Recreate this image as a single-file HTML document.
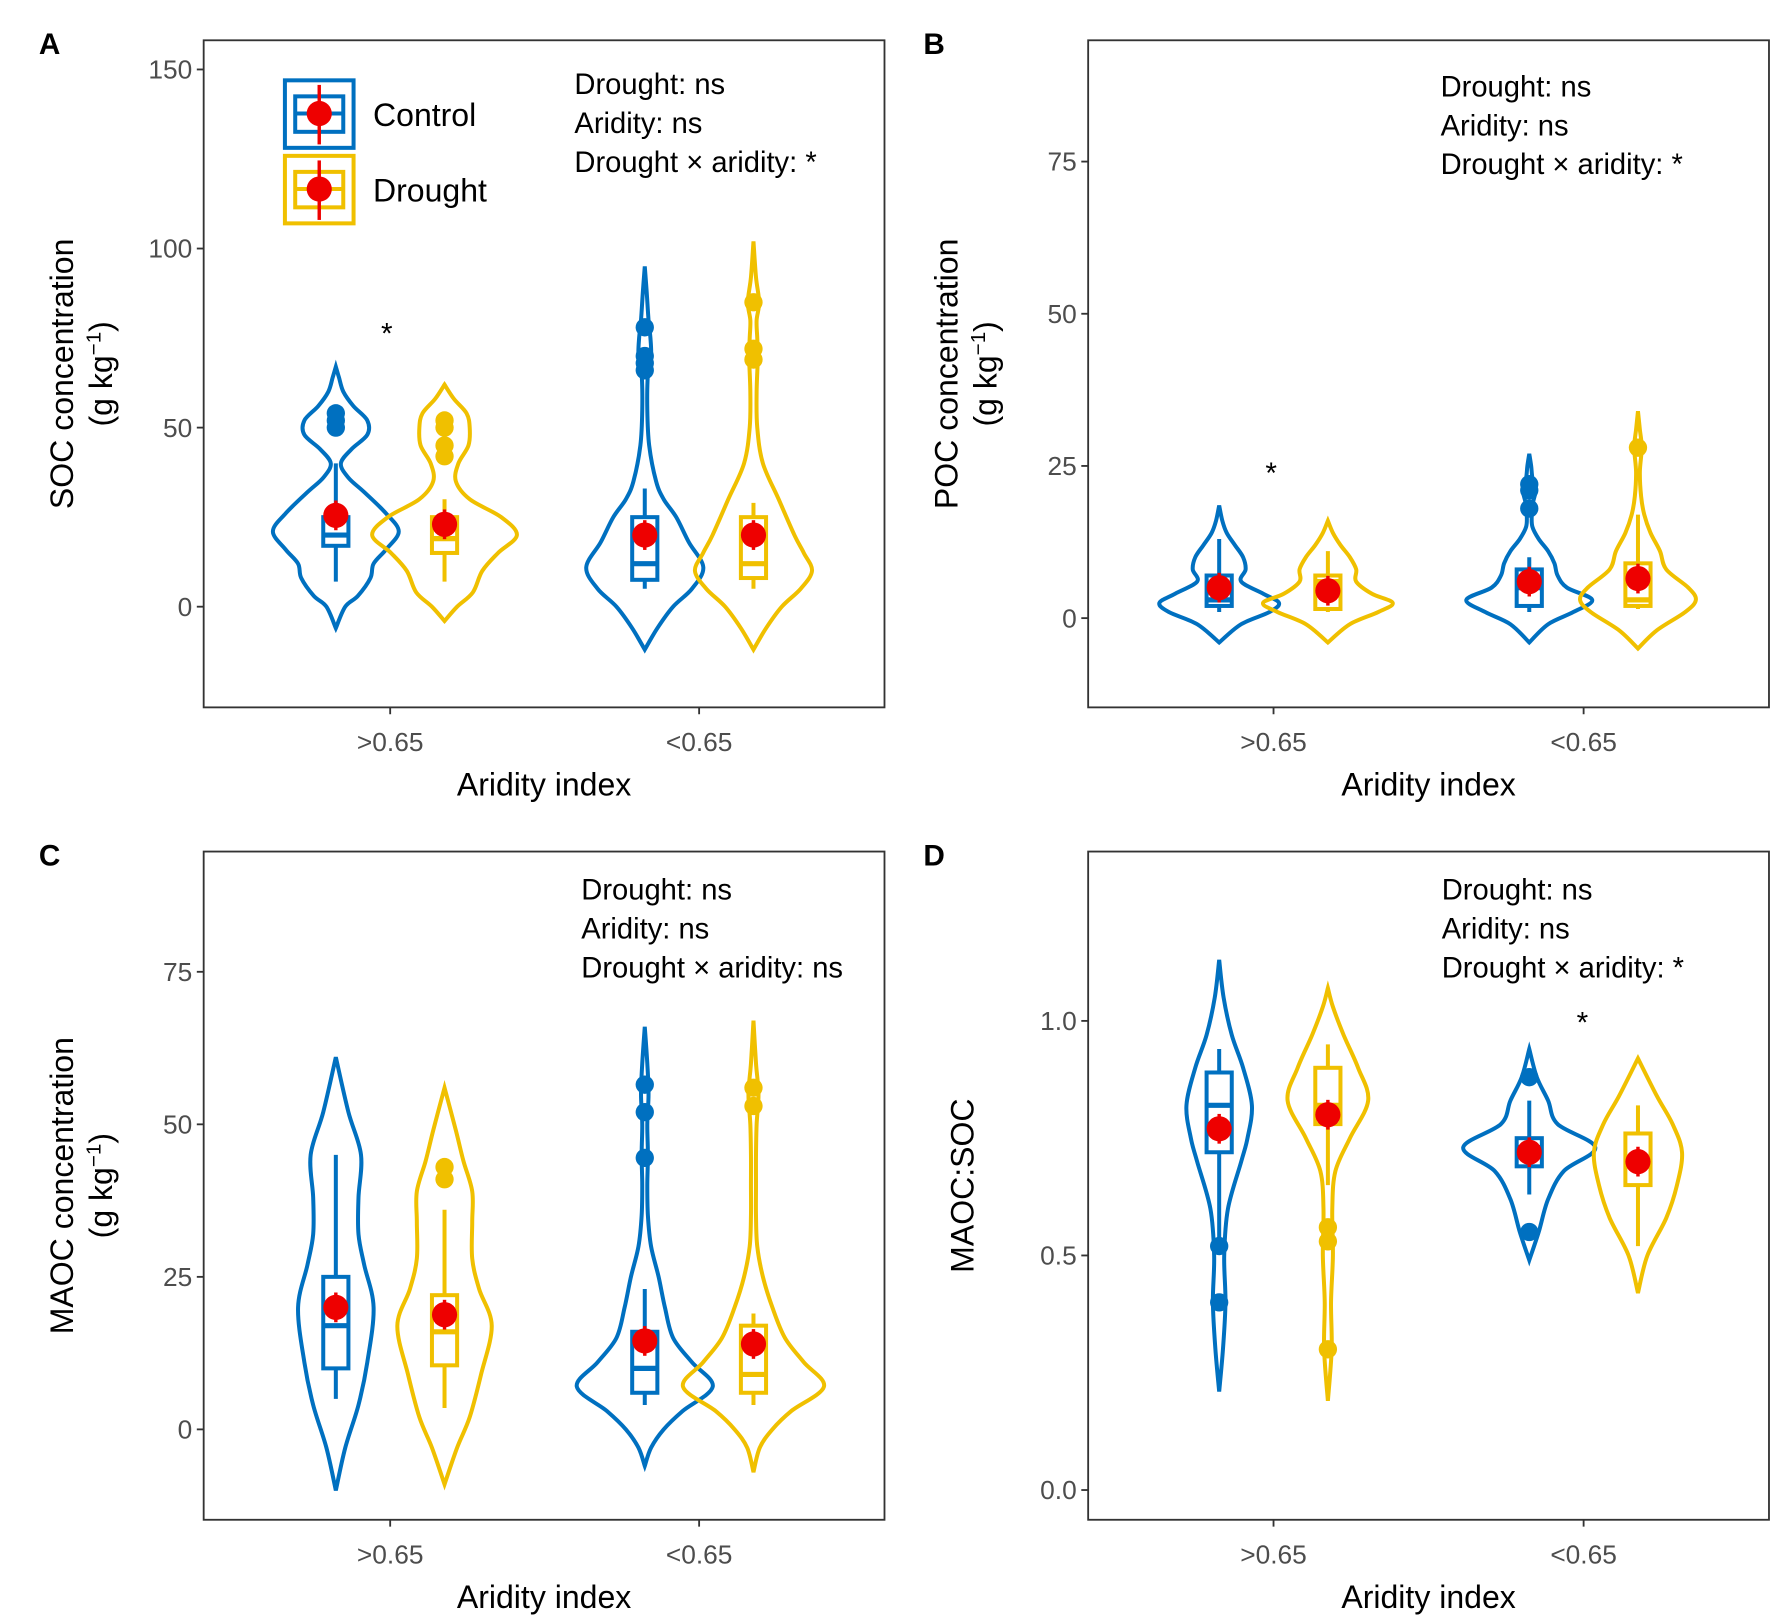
<!DOCTYPE html>
<html><head><meta charset="utf-8"><style>
html,body{margin:0;padding:0;background:#fff}
svg{display:block}
text{font-family:"Liberation Sans",Arial,sans-serif}
</style></head><body>
<svg id="fig" width="1785" height="1623" viewBox="0 0 1560 1418" xmlns="http://www.w3.org/2000/svg"></svg>
<script>
// ---------- DATA ----------
const categories = [">0.65", "<0.65"];
const groups = ["Control", "Drought"];
// Panel A: SOC
const aTicks = [0, 50, 100, 150];
const aViolinVals = [
 [-6,0,3,8,12,16,21,26,32,36,40,44,48,52,56,60,64,67],
 [-4,0,4,10,15,20,25,30,35,40,45,50,54,58,62],
 [-12,-6,0,5,11,18,25,30,35,45,55,65,70,75,80,88,95],
 [-12,-6,0,5,10,15,20,30,40,50,60,70,75,80,85,92,102]];
const aViolinDens = [
 [0,0.15,0.35,0.55,0.6,0.8,1,0.8,0.45,0.2,0.08,0.25,0.5,0.5,0.28,0.12,0.05,0],
 [0,0.2,0.45,0.6,0.85,1.15,0.9,0.4,0.18,0.22,0.38,0.4,0.35,0.15,0],
 [0,0.2,0.45,0.75,0.93,0.7,0.5,0.3,0.18,0.07,0.04,0.05,0.1,0.09,0.06,0.03,0],
 [0,0.2,0.45,0.75,0.93,0.8,0.65,0.4,0.15,0.06,0.05,0.07,0.06,0.05,0.09,0.04,0]];
const aBox = [[7,17,20,25,40],[7,15,19,25,30],[5,7.5,12,25,33],[5,8,12,25,29]];
const aOutliers = [[50,52,54],[42,45,50,52],[66,68,70,78],[69,72,85]];
const aMeans = [25.5,23,20,20];
// Panel B: POC
const bTicks = [0,25,50,75];
const bViolinVals = [
 [-4,-1,1,2.5,4,6,8,10,12,14,16,18.5],
 [-4,-1,1,2.5,4,6,8,10,12,14,16],
 [-4,-1,1,3,5,7,9,11,13,15,17,19,21,23,25,27],
 [-5,-2,1,3,5,8,11,14,17,20,24,28,31,34]];
const bViolinDens = [
 [0,0.35,0.8,0.95,0.7,0.35,0.42,0.38,0.25,0.12,0.05,0],
 [0,0.35,0.8,1.03,0.7,0.45,0.45,0.35,0.2,0.08,0],
 [0,0.3,0.7,1,0.6,0.45,0.4,0.3,0.15,0.05,0.04,0.06,0.1,0.05,0.03,0],
 [0,0.3,0.75,0.92,0.8,0.45,0.35,0.2,0.1,0.05,0.03,0.06,0.03,0]];
const bBox = [[1,2,3,7,13],[1,1.5,6,7,11],[1,2,5,8,10],[1.5,2,3,9,17]];
const bOutliers = [[],[],[18,21,22],[28]];
const bMeans = [5,4.5,6,6.5];
// Panel C: MAOC
const cTicks = [0,25,50,75];
const cViolinVals = [
 [-10,-3,4,11,20,27,32,38,45,52,61],
 [-9,-3,2,9,17,23,28,34,39,44,49,56],
 [-6,-3,0,3,7,11,15,20,25,30,35,40,45,50,55,60,66],
 [-7,-3,0,3,7,11,15,20,25,30,35,40,45,50,55,60,67]];
const cViolinDens = [
 [0,0.15,0.36,0.5,0.6,0.45,0.36,0.36,0.4,0.2,0],
 [0,0.2,0.4,0.58,0.75,0.55,0.44,0.44,0.44,0.3,0.18,0],
 [0,0.1,0.3,0.6,1.08,0.75,0.45,0.32,0.22,0.1,0.05,0.04,0.05,0.04,0.06,0.04,0],
 [0,0.1,0.3,0.6,1.12,0.8,0.5,0.3,0.15,0.06,0.04,0.04,0.04,0.05,0.08,0.04,0]];
const cBox = [[5,10,17,25,45],[3.5,10.5,16,22,36],[4,6,10,16,23],[4,6,9,17,19]];
const cOutliers = [[],[41,43],[44.5,52,56.5],[53,56]];
const cMeans = [20,18.8,14.5,14];
// Panel D: MAOC:SOC
const dTicks = [0.0,0.5,1.0];
const dViolinVals = [
 [0.21,0.3,0.4,0.5,0.6,0.7,0.75,0.82,0.9,0.97,1.05,1.13],
 [0.19,0.3,0.4,0.5,0.6,0.68,0.75,0.83,0.9,0.97,1.03,1.07],
 [0.49,0.55,0.62,0.68,0.73,0.78,0.83,0.88,0.94],
 [0.42,0.5,0.58,0.65,0.72,0.78,0.84,0.92]];
const dViolinDens = [
 [0,0.06,0.1,0.08,0.14,0.35,0.45,0.52,0.38,0.2,0.07,0],
 [0,0.06,0.05,0.08,0.07,0.12,0.35,0.64,0.48,0.25,0.08,0],
 [0,0.15,0.3,0.55,1.05,0.45,0.3,0.12,0],
 [0,0.15,0.45,0.62,0.7,0.55,0.3,0]];
const dBox = [[0.53,0.72,0.82,0.89,0.94],[0.65,0.78,0.82,0.9,0.95],[0.63,0.69,0.73,0.75,0.83],[0.52,0.65,0.7,0.76,0.82]];
const dOutliers = [[0.40,0.52],[0.30,0.53,0.56],[0.55,0.88],[]];
const dMeans = [0.77,0.8,0.72,0.7];

// ---------- DRAWING ----------
const NS="http://www.w3.org/2000/svg";
const svg=document.getElementById('fig');
const BLUE="#0070C0", GOLD="#F0C000", RED="#EE0000";
function mk(tag,attrs,parent){const e=document.createElementNS(NS,tag);for(const k in attrs)e.setAttribute(k,attrs[k]);(parent||svg).appendChild(e);return e;}
function txt(s,attrs,parent){const e=mk('text',attrs,parent);e.textContent=s;return e;}

function smoothPath(pts){
  let d="M"+pts[0][0]+","+pts[0][1];
  for(let i=0;i<pts.length-1;i++){
    const p0=pts[Math.max(i-1,0)],p1=pts[i],p2=pts[i+1],p3=pts[Math.min(i+2,pts.length-1)];
    const c1=[p1[0]+(p2[0]-p0[0])/6,p1[1]+(p2[1]-p0[1])/6];
    const c2=[p2[0]-(p3[0]-p1[0])/6,p2[1]-(p3[1]-p1[1])/6];
    d+=" C"+c1[0]+","+c1[1]+" "+c2[0]+","+c2[1]+" "+p2[0]+","+p2[1];
  }
  return d;
}

function panel(cfg){
  const g=mk('g',{});
  
  
  const {x0,x1,y0,y1}=cfg;
  const yScale=v=>cfg.yZero-(v-0)*cfg.pxPerUnit;
  const catX=i=>cfg.catX[i];
  const dodge=47.5, halfMax=55, boxHW=11, SW=3.5;
  const fr=mk('rect',{x:x0,y:y0,width:x1-x0,height:y1-y0,fill:'none',stroke:'#333','stroke-width':1.6},g);
  
  cfg.ticks.forEach(t=>{
    const y=yScale(t);
    mk('line',{x1:x0-6,x2:x0,y1:y,y2:y,stroke:'#333','stroke-width':1.6},g);
    const l=txt(cfg.fmt(t),{x:x0-10,y:y+8,'text-anchor':'end','font-size':23,fill:'#4d4d4d'},g);
    
  });
  categories.forEach((c,i)=>{
    mk('line',{x1:catX(i),x2:catX(i),y1:y1,y2:y1+6,stroke:'#333','stroke-width':1.6},g);
    const l=txt(c,{x:catX(i),y:y1+38,'text-anchor':'middle','font-size':23,fill:'#4d4d4d'},g);
    
  });
  const xt=txt('Aridity index',{x:(x0+x1)/2,y:y1+77,'text-anchor':'middle','font-size':28,fill:'#000'},g);
  
  const yt=mk('text',{transform:`translate(${cfg.ytX},${(y0+y1)/2}) rotate(-90)`,'text-anchor':'middle','font-size':28,fill:'#000'},g);
  
  yt.textContent=cfg.ytitle;
  if(cfg.yunit){
    const yu=mk('text',{transform:`translate(${cfg.ytX+34},${(y0+y1)/2}) rotate(-90)`,'text-anchor':'middle','font-size':28,fill:'#000'},g);
    
    yu.innerHTML='(g kg<tspan dy="-10" font-size="18">−1</tspan><tspan dy="10">)</tspan>';
  }
  const pl=txt(cfg.letter,{x:x0-144,y:y0+12,'font-size':26,'font-weight':'bold',fill:'#000'},g);
  
  for(let k=0;k<4;k++){
    const cat=Math.floor(k/2), grp=k%2;
    const cx=catX(cat)+(grp===0?-dodge:dodge);
    const col=grp===0?BLUE:GOLD;
    const vals=cfg.vv[k], dens=cfg.vd[k];
    const right=vals.map((v,i)=>[cx+dens[i]*halfMax,yScale(v)]);
    const left=vals.map((v,i)=>[cx-dens[i]*halfMax,yScale(v)]).reverse();
    const p=mk('path',{d:smoothPath(right)+" "+smoothPath(left).replace(/^M/,'L')+" Z",fill:'none',stroke:col,'stroke-width':SW},g);
    
    
    const b=cfg.box[k];
    mk('line',{x1:cx,x2:cx,y1:yScale(b[0]),y2:yScale(b[4]),stroke:col,'stroke-width':SW},g);
    const r=mk('rect',{x:cx-boxHW,y:yScale(b[3]),width:boxHW*2,height:yScale(b[1])-yScale(b[3]),fill:'#fff',stroke:col,'stroke-width':SW},g);
    
    mk('line',{x1:cx-boxHW,x2:cx+boxHW,y1:yScale(b[2]),y2:yScale(b[2]),stroke:col,'stroke-width':4.5},g);
    cfg.out[k].forEach(o=>{
      const c=mk('circle',{cx:cx,cy:yScale(o),r:8,fill:col},g);
      
    });
    const m=mk('circle',{cx:cx,cy:yScale(cfg.mean[k]),r:11,fill:RED},g);
    
    mk('line',{x1:cx,x2:cx,y1:yScale(cfg.mean[k])-13,y2:yScale(cfg.mean[k])+13,stroke:RED,'stroke-width':3},g);
  }
  cfg.stats.forEach((s,i)=>{
    const t=txt(s,{x:cfg.statX,y:cfg.statY+i*34,'font-size':25.5,fill:'#000'},g);
    
  });
  (cfg.stars||[]).forEach(s=>{
    const t=txt('*',{x:s[0],y:s[1],'text-anchor':'middle','font-size':26,fill:'#000'},g);
    
  });
  return g;
}
const st=["Drought: ns","Aridity: ns","Drought × aridity: *"];
panel({name:'panel-a-soc',letter:'A',x0:178,x1:773,y0:35,y1:618,yZero:530,pxPerUnit:156.5/50,catX:[341,611],ticks:aTicks,fmt:t=>String(t),
  ytitle:'SOC concentration',yunit:true,ytX:64,vv:aViolinVals,vd:aViolinDens,box:aBox,out:aOutliers,mean:aMeans,stats:st,statX:502,statY:82,stars:[[338,300]]});
panel({name:'panel-b-poc',letter:'B',x0:951,x1:1546,y0:35,y1:618,yZero:540,pxPerUnit:133/25,catX:[1113,1384],ticks:bTicks,fmt:t=>String(t),
  ytitle:'POC concentration',yunit:true,ytX:837,vv:bViolinVals,vd:bViolinDens,box:bBox,out:bOutliers,mean:bMeans,stats:st,statX:1259,statY:84,stars:[[1111,422]]});
panel({name:'panel-c-maoc',letter:'C',x0:178,x1:773,y0:744,y1:1328,yZero:1249,pxPerUnit:133.3/25,catX:[341,611],ticks:cTicks,fmt:t=>String(t),
  ytitle:'MAOC concentration',yunit:true,ytX:64,vv:cViolinVals,vd:cViolinDens,box:cBox,out:cOutliers,mean:cMeans,stats:["Drought: ns","Aridity: ns","Drought × aridity: ns"],statX:508,statY:786});
panel({name:'panel-d-ratio',letter:'D',x0:951,x1:1546,y0:744,y1:1328,yZero:1302,pxPerUnit:410,catX:[1113,1384],ticks:dTicks,fmt:t=>t.toFixed(1),
  ytitle:'MAOC:SOC',yunit:false,ytX:851,vv:dViolinVals,vd:dViolinDens,box:dBox,out:dOutliers,mean:dMeans,stats:st,statX:1260,statY:786,stars:[[1383,902]]});

const lg=mk('g',{});


[[BLUE,70,'Control'],[GOLD,136,'Drought']].forEach(([col,y,lab])=>{
  const e=mk('g',{},lg);
  
  
  mk('rect',{x:249,y:y,width:60,height:59,fill:'none',stroke:col,'stroke-width':3.5},e);
  mk('rect',{x:258,y:y+14,width:42,height:31,fill:'#fff',stroke:col,'stroke-width':3.5},e);
  mk('line',{x1:258,x2:300,y1:y+29,y2:y+29,stroke:col,'stroke-width':3.5},e);
  mk('line',{x1:279,x2:279,y1:y+4,y2:y+56,stroke:RED,'stroke-width':3},e);
  mk('circle',{cx:279,cy:y+29,r:11,fill:RED},e);
  txt(lab,{x:326,y:y+40,'font-size':28,fill:'#000'},e);
});
</script>
</body></html>
